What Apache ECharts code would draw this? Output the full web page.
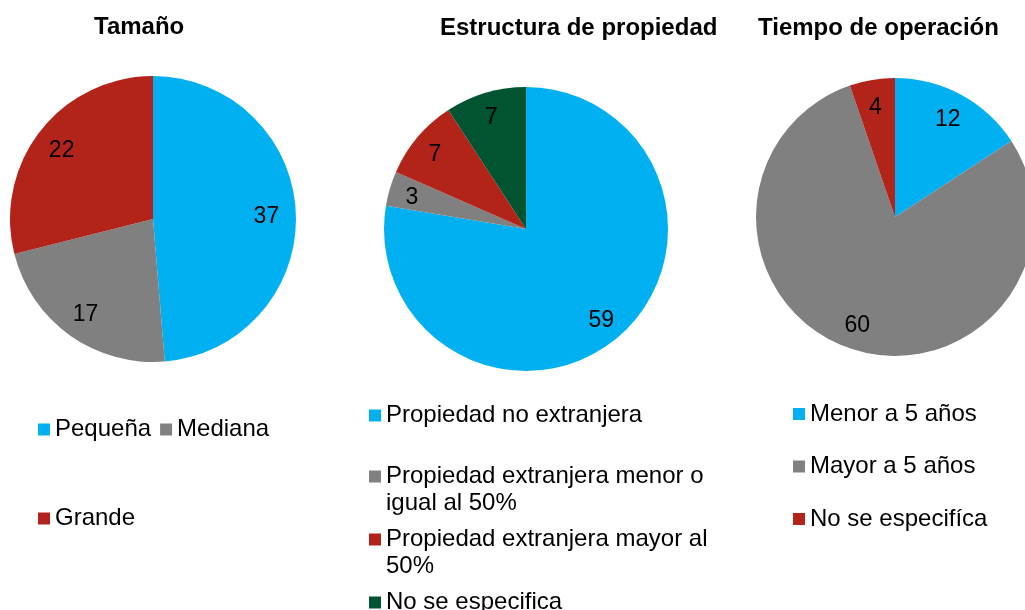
<!DOCTYPE html>
<html>
<head>
<meta charset="utf-8">
<script src="https://cdn.jsdelivr.net/npm/echarts@6/dist/echarts.min.js"></script>
<style>
html,body{margin:0;padding:0;background:#fff;}
#chart{width:1025px;height:610px;}
</style>
</head>
<body>
<div id="chart"></div>
<script>
const titles = ['Tamaño', 'Estructura de propiedad', 'Tiempo de operación'];

const sizeNames = ['Pequeña', 'Mediana', 'Grande'];
const sizeValues = [37, 17, 22];

const ownNames = ['Propiedad no extranjera', 'Propiedad extranjera menor o igual al 50%', 'Propiedad extranjera mayor al 50%', 'No se especifica'];
const ownLegendLabels = ['Propiedad no extranjera', '\nPropiedad extranjera menor o\nigual al 50%', '\nPropiedad extranjera mayor al\n50%', 'No se especifica'];
const ownValues = [59, 3, 7, 7];

const timeNames = ['Menor a 5 años', 'Mayor a 5 años', 'No se especifíca'];
const timeValues = [12, 60, 4];

const BLUE = '#00B0F0', GRAY = '#808080', RED = '#B2231A', GREEN = '#005530';
const sizeColors = [BLUE, GRAY, RED];
const ownColors = [BLUE, GRAY, RED, GREEN];
const timeColors = [BLUE, GRAY, RED];

const FONT = '"Liberation Sans", Arial, sans-serif';
const FS = 24;

function mkData(names, values, colors) {
  return names.map((n, i) => ({ name: n, value: values[i], itemStyle: { color: colors[i] } }));
}
function mkLabelData(names, values) {
  return names.map((n, i) => ({ name: n, value: values[i] }));
}
function pieSeries(center, r, rInner, names, values, colors) {
  return [
    {
      type: 'pie', center: center, radius: r, startAngle: 90, clockwise: true,
      data: mkData(names, values, colors),
      label: { show: false }, labelLine: { show: false },
      itemStyle: { borderWidth: 0 },
      emphasis: { disabled: true }, silent: true, animation: false
    },
    {
      type: 'pie', center: center, radius: [rInner, r], startAngle: 90, clockwise: true,
      data: mkLabelData(names, values),
      itemStyle: { color: 'rgba(0,0,0,0)', borderWidth: 0 },
      label: { show: true, position: 'inside', formatter: '{c}', color: '#000', fontSize: 23, fontFamily: FONT, offset: [-1, 2] },
      labelLine: { show: false },
      emphasis: { disabled: true }, silent: true, animation: false
    }
  ];
}

const legendBase = {
  icon: 'rect', itemWidth: 12, itemHeight: 12, padding: 0, selectedMode: false,
  textStyle: { fontSize: FS, fontFamily: FONT, color: '#000', lineHeight: 27 }
};
function legendOf(names, colors, idxs, extra) {
  return Object.assign({}, legendBase, {
    data: idxs.map(i => ({ name: names[i], itemStyle: { color: colors[i] } }))
  }, extra);
}

const titleStyle = { fontSize: 24, fontWeight: 'bold', fontFamily: FONT, color: '#000' };

const option = {
  animation: false,
  backgroundColor: '#fff',
  title: [
    { text: titles[0], left: 94, top: 15, padding: 0, textStyle: titleStyle },
    { text: titles[1], left: 440, top: 16, padding: 0, textStyle: titleStyle },
    { text: titles[2], left: 758, top: 16, padding: 0, textStyle: titleStyle }
  ],
  legend: [
    legendOf(sizeNames, sizeColors, [0, 1], { left: 38, top: 416, orient: 'horizontal', itemGap: 9 }),
    legendOf(sizeNames, sizeColors, [2], { left: 38, top: 505, orient: 'horizontal' }),
    legendOf(ownNames, ownColors, [0], { left: 369, top: 402, orient: 'vertical' }),
    legendOf(ownNames, ownColors, [1], { left: 369, top: 436, orient: 'vertical',
      formatter: n => ownLegendLabels[ownNames.indexOf(n)] }),
    legendOf(ownNames, ownColors, [2], { left: 369, top: 499, orient: 'vertical',
      formatter: n => ownLegendLabels[ownNames.indexOf(n)] }),
    legendOf(ownNames, ownColors, [3], { left: 369, top: 589, orient: 'vertical' }),
    legendOf(timeNames, timeColors, [0, 1, 2], { left: 793, top: 400.5, orient: 'vertical', itemGap: 25.5 })
  ],
  series: [].concat(
    pieSeries([153, 219], 143, 80, sizeNames, sizeValues, sizeColors),
    pieSeries([526, 229], 142, 88, ownNames, ownValues, ownColors),
    pieSeries([895, 217], 139, 81, timeNames, timeValues, timeColors)
  )
};

const chart = echarts.init(document.getElementById('chart'), null, { renderer: 'canvas' });
chart.setOption(option);
</script>
</body>
</html>
